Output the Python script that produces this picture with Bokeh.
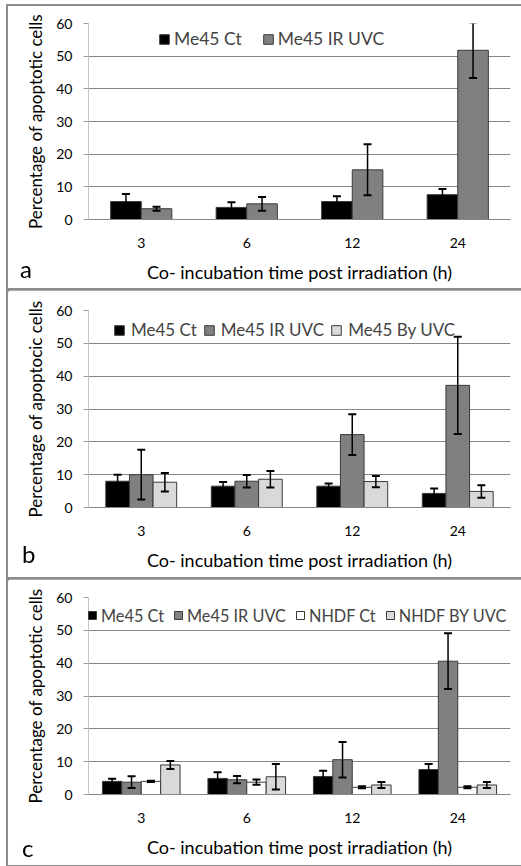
from bokeh.plotting import figure
from bokeh.models import (ColumnDataSource, FactorRange, Range1d, FixedTicker,
                          Whisker, TeeHead, Legend, LegendItem, Div)
from bokeh.transform import dodge
from bokeh.layouts import column
from bokeh.embed import file_html
from bokeh.resources import INLINE

# ---------------- data ----------------
times = ["3", "6", "12", "24"]
y_ticks = [0, 10, 20, 30, 40, 50, 60]
panel_letters = ["a", "b", "c"]

# panel a
a_ct = [5.5, 3.7, 5.5, 7.6]
a_ct_err = [2.3, 1.6, 1.6, 1.7]
a_ir = [3.3, 4.8, 15.2, 51.8]
a_ir_err = [0.6, 2.1, 7.8, 8.5]

# panel b
b_ct = [8.0, 6.5, 6.5, 4.3]
b_ct_err = [2.0, 1.3, 0.8, 1.5]
b_ir = [10.0, 8.0, 22.2, 37.2]
b_ir_err = [7.6, 1.9, 6.2, 14.8]
b_by = [7.7, 8.6, 7.9, 4.9]
b_by_err = [2.8, 2.5, 1.7, 1.9]

# panel c
c_ct = [4.0, 4.9, 5.5, 7.6]
c_ct_err = [0.8, 1.9, 1.7, 1.7]
c_ir = [3.75, 4.5, 10.6, 40.6]
c_ir_err = [1.8, 1.1, 5.4, 8.5]
c_nct = [4.0, 3.75, 2.2, 2.2]
c_nct_err = [0.2, 0.8, 0.3, 0.3]
c_nby = [9.0, 5.4, 2.9, 2.9]
c_nby_err = [1.2, 3.9, 0.9, 0.9]

x_label = "Co- incubation time post irradiation (h)"

FONT = "Lato"
GRID = "#868686"


def make_panel(h, borders, series, ylabel, legend_xy,
               glyph, spacing, standoff, legend_font, bar_w, offsets):
    top, bottom, left, right = borders
    p = figure(width=513, height=h, x_range=FactorRange(*times),
               y_range=Range1d(0, 60), output_backend="svg",
               toolbar_location=None, min_border_top=top,
               min_border_bottom=bottom, min_border_left=left,
               min_border_right=right,
               styles={"outline": "2px solid #8c8c8c"})
    p.outline_line_color = None
    p.xgrid.grid_line_color = None
    p.ygrid.grid_line_color = GRID
    p.ygrid.ticker = FixedTicker(ticks=y_ticks)
    p.yaxis.ticker = FixedTicker(ticks=y_ticks)
    p.yaxis.minor_tick_line_color = None
    p.yaxis.axis_line_color = "#c8c8c8"
    p.yaxis.major_tick_line_color = "#a0a0a0"
    p.yaxis.major_tick_in = 0
    p.yaxis.major_tick_out = 5
    p.yaxis.major_label_standoff = 11
    p.yaxis.axis_label = ylabel
    p.yaxis.axis_label_standoff = 7
    p.xaxis.axis_label = x_label
    p.xaxis.axis_line_color = GRID
    p.xaxis.major_tick_line_color = None
    p.xaxis.major_label_standoff = 12
    p.xaxis.axis_label_standoff = 10
    for ax in (p.xaxis, p.yaxis):
        ax.major_label_text_font = FONT
        ax.major_label_text_font_size = "14px"
        ax.major_label_text_color = "black"
        ax.axis_label_text_font = FONT
        ax.axis_label_text_font_style = "normal"
        ax.axis_label_text_color = "black"
    p.xaxis.axis_label_text_font_size = "18px"
    p.yaxis.axis_label_text_font_size = "17px"

    items = []
    for (label, vals, errs, color), off in zip(series, offsets):
        src = ColumnDataSource(dict(
            x=times, top=vals,
            upper=[v + e for v, e in zip(vals, errs)],
            lower=[v - e for v, e in zip(vals, errs)]))
        r = p.vbar(x=dodge("x", off, range=p.x_range), top="top", width=bar_w,
                   source=src, fill_color=color, line_color="#3a3a3a",
                   line_width=1)
        wh = Whisker(source=src, base=dodge("x", off, range=p.x_range),
                     upper="upper", lower="lower", line_color="black",
                     line_width=1.5, level="overlay",
                     upper_head=TeeHead(size=8, line_width=2, line_color="black"),
                     lower_head=TeeHead(size=8, line_width=2, line_color="black"))
        p.add_layout(wh)
        items.append(LegendItem(label=label, renderers=[r]))

    leg = Legend(items=items, location=legend_xy, orientation="horizontal",
                 glyph_width=glyph, glyph_height=glyph, label_standoff=standoff,
                 spacing=spacing, padding=0, margin=0, border_line_color=None,
                 background_fill_alpha=0, label_text_font=FONT,
                 label_text_font_size=legend_font, label_height=20)
    p.add_layout(leg)
    return p


pa = make_panel(284, (17, 71, 79, 11),
                [("Me45 Ct", a_ct, a_ct_err, "black"),
                 ("Me45 IR UVC", a_ir, a_ir_err, "#808080")],
                "Percentage of apoptotic cells", (70, 170),
                12, 20, 4, "17.5px", 0.29, [-0.145, 0.145])

pb = make_panel(289, (20, 72, 79, 10),
                [("Me45 Ct", b_ct, b_ct_err, "black"),
                 ("Me45 IR UVC", b_ir, b_ir_err, "#808080"),
                 ("Me45 By UVC", b_by, b_by_err, "#d9d9d9")],
                "Percentage of apoptocic cells", (25, 167),
                12, 6, 6, "17px", 0.224, [-0.224, 0.0, 0.224])

pc = make_panel(286, (18, 71, 80, 9),
                [("Me45 Ct", c_ct, c_ct_err, "black"),
                 ("Me45 IR UVC", c_ir, c_ir_err, "#808080"),
                 ("NHDF Ct", c_nct, c_nct_err, "white"),
                 ("NHDF BY UVC", c_nby, c_nby_err, "#d9d9d9")],
                "Percentage of apoptotic cells", (-1, 169),
                10, 9, 4, "16.3px", 0.184, [-0.276, -0.092, 0.092, 0.276])

# panel letters (a, b, c) placed at the lower-left corner of each panel box
letter_pos = [(20, 257), (22, 542), (22, 836)]
letters_html = "".join(
    f'<span style="position:fixed;left:{x}px;top:{y}px;font-family:{FONT};'
    f'font-size:24px;line-height:24px;color:black;z-index:10">{t}</span>'
    for t, (x, y) in zip(panel_letters, letter_pos))
letters = Div(text=letters_html, width=1, height=0)

layout = column(pa, pb, pc, letters, spacing=0,
                styles={"margin-left": "8px", "margin-top": "6px"})
open("out.html", "w").write(file_html(layout, INLINE))
